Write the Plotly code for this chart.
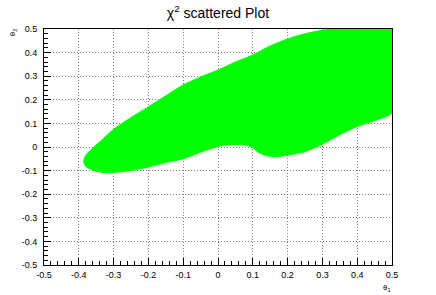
import plotly.graph_objects as go

# Outline of the scattered (chi^2-accepted) region
outline_theta1 = [-0.30, -0.25, -0.20, -0.15, -0.10, -0.05, 0.00, 0.05, 0.10, 0.15, 0.20, 0.25, 0.30, 0.32,
                  0.50, 0.50,
                  0.45, 0.40, 0.35, 0.30, 0.25, 0.20, 0.17, 0.14, 0.115, 0.10, 0.08, 0.045, 0.02, 0.00,
                  -0.05, -0.10, -0.15, -0.20, -0.25, -0.30, -0.33, -0.36, -0.38, -0.386, -0.38, -0.36, -0.33, -0.30]
outline_theta2 = [0.075, 0.125, 0.170, 0.217, 0.263, 0.297, 0.326, 0.360, 0.390, 0.428, 0.458, 0.480, 0.495, 0.50,
                  0.50, 0.145,
                  0.112, 0.087, 0.052, 0.012, -0.020, -0.034, -0.041, -0.037, -0.022, -0.002, 0.008, 0.011, 0.008, 0.002,
                  -0.022, -0.050, -0.066, -0.085, -0.100, -0.108, -0.108, -0.098, -0.082, -0.060, -0.035, -0.005, 0.035, 0.075]

tick_vals = [-0.5, -0.4, -0.3, -0.2, -0.1, 0.0, 0.1, 0.2, 0.3, 0.4, 0.5]
tick_text = ["-0.5", "-0.4", "-0.3", "-0.2", "-0.1", "0", "0.1", "0.2", "0.3", "0.4", "0.5"]

FONT = "Liberation Sans, Arial, sans-serif"

fig = go.Figure()
fig.add_trace(go.Scatter(
    x=outline_theta1, y=outline_theta2,
    mode="lines", fill="toself", line_shape="spline",
    fillcolor="#00ff00", line=dict(color="#00ff00", width=1, smoothing=0.6),
    hoverinfo="skip", showlegend=False,
))

axis_common = dict(
    range=[-0.5, 0.5],
    tickvals=tick_vals, ticktext=tick_text,
    ticks="inside", ticklen=7, tickcolor="black", tickwidth=1,
    minor=dict(ticks="inside", ticklen=4, dtick=0.02, tickcolor="black", showgrid=False),
    showgrid=True, gridcolor="#808080", griddash="1px,2px", gridwidth=1,
    zeroline=False,
    showline=True, linecolor="black", linewidth=1, mirror=True,
    tickfont=dict(family=FONT, size=9, color="black"),
)

fig.update_layout(
    width=436, height=295,
    margin=dict(l=44, r=44, t=29, b=30),
    paper_bgcolor="white", plot_bgcolor="white",
    xaxis=dict(**axis_common, ticklabelstandoff=1),
    yaxis=dict(**axis_common, ticklabelstandoff=4),
    title=dict(text="χ<sup>2</sup> scattered Plot", x=0.5, xanchor="center", y=0.955, yanchor="middle",
               font=dict(family=FONT, size=14, color="black")),
    annotations=[
        dict(text="θ<sub>1</sub>", xref="paper", yref="paper", x=1.003, y=-0.068, xanchor="right", yanchor="top",
             showarrow=False, font=dict(family=FONT, size=8, color="black")),
        dict(text="θ<sub>2</sub>", xref="paper", yref="paper", x=-0.07, y=1.01, xanchor="right", yanchor="top",
             textangle=-90, showarrow=False, font=dict(family=FONT, size=8, color="black")),
    ],
)

fig.write_html("out.html", config={"displayModeBar": False},
               post_script="document.body.style.margin='0';document.body.style.padding='0';")
